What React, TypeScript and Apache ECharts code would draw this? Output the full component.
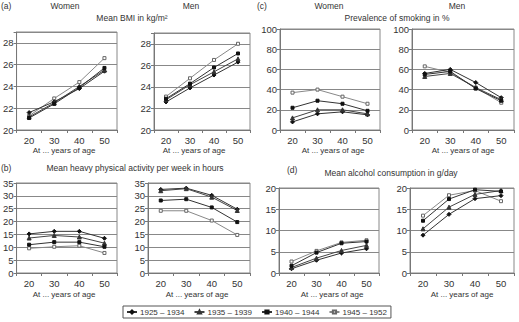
import React, { useEffect, useRef } from "react";
import * as echarts from "echarts";

const ages = ["20", "30", "40", "50"];
const cohorts = ["1925 – 1934", "1935 – 1939", "1940 – 1944", "1945 – 1952"];

// Each panel: one row per cohort (1925–1934, 1935–1939, 1940–1944, 1945–1952)
const bmiWomen = [
  [21.6, 22.6, 23.8, 25.4],
  [21.2, 22.5, 24.0, 25.5],
  [21.1, 22.4, 23.9, 25.7],
  [21.3, 22.9, 24.4, 26.6],
];
const bmiMen = [
  [22.6, 23.9, 25.1, 26.3],
  [22.8, 24.2, 25.4, 26.6],
  [22.9, 24.3, 25.8, 27.1],
  [23.1, 24.8, 26.5, 28.0],
];
const smokingWomen = [
  [8, 16, 18, 15],
  [12, 20, 20, 16],
  [22, 29, 26, 19],
  [37, 40, 33, 26],
];
const smokingMen = [
  [56, 60, 47, 32],
  [53, 56, 42, 30],
  [55, 58, 41, 29],
  [63, 57, 42, 27],
];
const activityWomen = [
  [15.2, 16.2, 16.2, 13.5],
  [13.6, 14.6, 14.0, 11.6],
  [11.0, 12.0, 12.0, 10.2],
  [9.6, 10.2, 10.6, 7.8],
];
const activityMen = [
  [32.5, 33.0, 30.2, 24.8],
  [32.0, 32.8, 29.5, 24.3],
  [28.2, 28.7, 25.5, 19.8],
  [24.2, 24.2, 20.4, 14.8],
];
const alcoholWomen = [
  [1.0, 3.0, 4.7, 5.7],
  [1.3, 3.5, 5.3, 6.5],
  [1.7, 4.8, 7.0, 7.4],
  [2.7, 5.2, 7.2, 7.7],
];
const alcoholMen = [
  [8.9, 13.8, 17.5, 18.2],
  [10.4, 15.5, 18.5, 19.4],
  [12.3, 17.4, 19.6, 19.2],
  [13.5, 18.3, 19.4, 16.9],
];

const FONT = "'Liberation Sans', Arial, sans-serif";
const TXT = "#333";

const panels = [
  { data: bmiWomen, min: 20, max: 29, interval: 2, grid: { left: 13, top: 32, width: 104, height: 98 } },
  { data: bmiMen, min: 20, max: 29, interval: 2, grid: { left: 154, top: 33, width: 96, height: 97 } },
  { data: smokingWomen, min: 0, max: 100, interval: 20, grid: { left: 280, top: 29, width: 100, height: 101 } },
  { data: smokingMen, min: 0, max: 100, interval: 20, grid: { left: 412, top: 29, width: 102, height: 101 } },
  { data: activityWomen, min: 0, max: 35, interval: 5, grid: { left: 13, top: 183, width: 104, height: 90 } },
  { data: activityMen, min: 0, max: 35, interval: 5, grid: { left: 148, top: 183, width: 102, height: 90 } },
  { data: alcoholWomen, min: 0, max: 20, interval: 5, grid: { left: 279, top: 188, width: 100, height: 85 } },
  { data: alcoholMen, min: 0, max: 20, interval: 5, grid: { left: 410, top: 188, width: 104, height: 85 } },
];

const cohortStyle = [
  { symbol: "diamond", size: 4, line: "#333", fill: "#111", border: "#111" },
  { symbol: "triangle", size: 4, line: "#444", fill: "#333", border: "#333" },
  { symbol: "rect", size: 3, line: "#333", fill: "#111", border: "#111" },
  { symbol: "rect", size: 3, line: "#888", fill: "#fff", border: "#666" },
];

function txt(text: string, x: number, y: number, size: number, align = "center") {
  return {
    type: "text",
    x,
    y,
    style: {
      text,
      fill: TXT,
      font: `${size}px ${FONT}`,
      textAlign: align,
      textVerticalAlign: "middle",
      verticalAlign: "middle",
    },
  };
}

export default function App() {
  const ref = useRef<HTMLDivElement>(null);
  useEffect(() => {
    if (!ref.current) return;
    const chart = echarts.init(ref.current, undefined, { renderer: "svg" });
    const grids = panels.map((p) => ({
      ...p.grid,
      show: true,
      borderColor: "#888",
      borderWidth: 1,
      backgroundColor: "transparent",
    }));
    const xAxes = panels.map((_, i) => ({
      type: "category",
      gridIndex: i,
      data: ages,
      boundaryGap: true,
      axisLine: { lineStyle: { color: "#777", width: 1 } },
      axisTick: { show: true, length: 3, interval: 0, lineStyle: { color: "#777" } },
      axisLabel: { color: TXT, fontSize: 9.5, fontFamily: FONT, margin: 5 },
      splitLine: { show: false },
    }));
    const yAxes = panels.map((p, i) => ({
      type: "value",
      gridIndex: i,
      min: p.min,
      max: p.max,
      interval: p.interval,
      axisLine: { show: true, lineStyle: { color: "#777", width: 1 } },
      axisTick: { show: true, length: 3, lineStyle: { color: "#777" } },
      axisLabel: {
        color: TXT,
        fontSize: 9.5,
        fontFamily: FONT,
        margin: 3,
        formatter: (v: number) => ((v - p.min) % p.interval === 0 ? String(v) : ""),
      },
      splitLine: { show: true, lineStyle: { color: "#888", width: 1 } },
    }));
    const series: any[] = [];
    panels.forEach((p, i) => {
      p.data.forEach((vals, c) => {
        const s = cohortStyle[c];
        series.push({
          type: "line",
          name: cohorts[c],
          xAxisIndex: i,
          yAxisIndex: i,
          data: vals,
          symbol: s.symbol,
          symbolSize: s.size,
          showSymbol: true,
          lineStyle: { color: s.line, width: 1 },
          itemStyle: { color: s.fill, borderColor: s.border, borderWidth: 1 },
          emphasis: { disabled: true },
          z: c === 3 ? 1 : 2,
        });
      });
    });
    const graphic = [
      txt("(a)", 1, 6, 8.5, "left"),
      txt("Women", 65, 6, 8.5),
      txt("Men", 191, 6, 8.5),
      txt("Mean BMI in kg/m²", 132, 18, 8.5),
      txt("(c)", 257, 6, 8.5, "left"),
      txt("Women", 329, 6, 8.5),
      txt("Men", 457, 6, 8.5),
      txt("Prevalence of smoking in %", 397, 18, 8.5),
      txt("At ... years of age", 64, 150, 8),
      txt("At ... years of age", 194, 150, 8),
      txt("At ... years of age", 333, 150, 8),
      txt("At ... years of age", 463, 150, 8),
      txt("(b)", 1, 168, 8.5, "left"),
      txt("Mean heavy physical activity per week in hours", 135, 168, 8.5),
      txt("(d)", 287, 170, 8.5, "left"),
      txt("Mean alcohol consumption in g/day", 391, 173, 8.5),
      txt("At ... years of age", 64, 294, 8),
      txt("At ... years of age", 197, 294, 8),
      txt("At ... years of age", 332, 294, 8),
      txt("At ... years of age", 462, 294, 8),
    ];
    chart.setOption({
      animation: false,
      backgroundColor: "#fff",
      grid: grids,
      xAxis: xAxes,
      yAxis: yAxes,
      series,
      graphic,
      legend: {
        data: cohorts,
        left: 123,
        top: 306,
        orient: "horizontal",
        borderColor: "#555",
        borderWidth: 1,
        padding: [2, 4, 2, 3],
        itemGap: 9,
        itemWidth: 10,
        itemHeight: 4,
        textStyle: { color: TXT, fontSize: 8, fontFamily: FONT, padding: [0, 0, 0, -2] },
        selectedMode: false,
      },
    });
    return () => chart.dispose();
  }, []);
  return (
    <div
      ref={ref}
      style={{ position: "fixed", left: 0, top: 0, width: 519, height: 322, background: "#fff" }}
    />
  );
}
